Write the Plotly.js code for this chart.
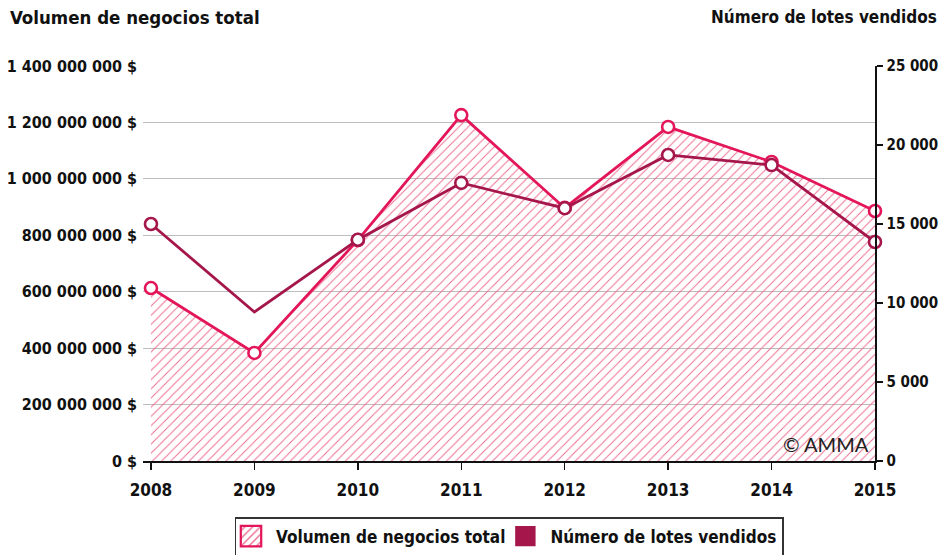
<!DOCTYPE html>
<html>
<head>
<meta charset="utf-8">
<script src="https://cdn.plot.ly/plotly-3.0.1.min.js"></script>
<style>
html,body{margin:0;padding:0;background:#fff;}
#chart{width:942px;height:555px;}
svg text{font-stretch:condensed !important;}
#chart .legendsymbols path{transform:translate(15px,0px) scale(1.7);}
</style>
</head>
<body>
<div id="chart"></div>
<script>
const years = [2008, 2009, 2010, 2011, 2012, 2013, 2014, 2015];
const volumen = [613000000, 383000000, 783000000, 1226000000, 897000000, 1184000000, 1060000000, 886000000];
const lotes = [15000, 9430, 14000, 17600, 16000, 19370, 18730, 13860];
const lotesMarkerShown = [1, 0, 1, 1, 1, 1, 1, 1];
const leftTickVals = [0, 200000000, 400000000, 600000000, 800000000, 1000000000, 1200000000, 1400000000];
const leftTickText = ['0 $', '200 000 000 $', '400 000 000 $', '600 000 000 $', '800 000 000 $', '1 000 000 000 $', '1 200 000 000 $', '1 400 000 000 $'];
const rightTickVals = [0, 5000, 10000, 15000, 20000, 25000];
const rightTickText = ['0', '5 000', '10 000', '15 000', '20 000', '25 000'];
const seriesNames = ['Volumen de negocios total', 'Número de lotes vendidos'];

const PINK = '#e3165a';
const DARK = '#a5164b';
const HATCH = '#ec6a8e';
const FONT = '"DejaVu Sans Condensed", "DejaVu Sans", sans-serif';

const traces = [
  {
    x: years, y: volumen, yaxis: 'y', type: 'scatter', mode: 'lines+markers',
    fill: 'tozeroy', fillcolor: 'rgba(0,0,0,0)',
    fillpattern: {shape: '/', fgcolor: HATCH, bgcolor: 'rgba(255,255,255,0)', size: 6.5, solidity: 0.15},
    line: {color: PINK, width: 2.8},
    marker: {symbol: 'circle', size: 12, color: '#fff', line: {color: PINK, width: 2.6}},
    cliponaxis: false, showlegend: false, hoverinfo: 'skip'
  },
  {
    x: years, y: lotes, yaxis: 'y2', type: 'scatter', mode: 'lines+markers',
    line: {color: DARK, width: 2.8},
    marker: {symbol: 'circle', size: 12, color: '#fff', opacity: lotesMarkerShown, line: {color: DARK, width: 2.6}},
    cliponaxis: false, showlegend: false, hoverinfo: 'skip'
  },
  {
    x: [null], y: [null], type: 'bar', name: seriesNames[0],
    marker: {color: '#fff', pattern: {shape: '/', fgcolor: HATCH, bgcolor: '#fff', size: 4, solidity: 0.25}, line: {color: PINK, width: 1.3}},
    showlegend: true
  },
  {
    x: [null], y: [null], type: 'bar', name: seriesNames[1],
    marker: {color: DARK, line: {color: DARK, width: 0}},
    showlegend: true
  }
];

const layout = {
  width: 942, height: 555,
  margin: {l: 143, r: 67, t: 66, b: 94, autoexpand: false},
  paper_bgcolor: '#fff', plot_bgcolor: '#fff',
  font: {family: FONT, color: '#111', size: 17},
  showlegend: true,
  legend: {
    orientation: 'h', x: 0.5, xanchor: 'center', y: -0.142, yanchor: 'top',
    bordercolor: '#333', borderwidth: 1.5, bgcolor: '#fff',
    font: {family: FONT, size: 17, color: '#111', weight: 'bold'},
    traceorder: 'normal'
  },
  xaxis: {
    range: [2007.923, 2015], tickvals: years, ticktext: years.map(String),
    showgrid: false, zeroline: false, showline: true, linecolor: '#111', linewidth: 2,
    ticks: 'outside', ticklen: 7, tickwidth: 1.5, tickcolor: '#111', ticklabelstandoff: 6,
    tickfont: {family: FONT, size: 17, color: '#111', weight: 'bold'},
    fixedrange: true
  },
  yaxis: {
    range: [0, 1400000000], tickvals: leftTickVals, ticktext: leftTickText,
    showgrid: true, gridcolor: '#bdbdbd', gridwidth: 1, zeroline: false, showline: false,
    ticks: '', ticklabelstandoff: 5,
    tickfont: {family: FONT, size: 16, color: '#111', weight: 'bold'},
    fixedrange: true
  },
  yaxis2: {
    range: [0, 25000], tickvals: rightTickVals, ticktext: rightTickText,
    overlaying: 'y', side: 'right', anchor: 'x',
    showgrid: false, zeroline: false, showline: true, linecolor: '#111', linewidth: 1.5,
    ticks: 'outside', ticklen: 6, tickwidth: 1.5, tickcolor: '#111', ticklabelstandoff: 1,
    tickfont: {family: FONT, size: 15, color: '#111', weight: 'bold'},
    fixedrange: true
  },
  annotations: [
    {text: seriesNames[0], xref: 'paper', yref: 'paper', x: -0.185, y: 1.124, xanchor: 'left', yanchor: 'middle',
     showarrow: false, font: {family: FONT, size: 18.5, color: '#111', weight: 'bold'}},
    {text: seriesNames[1], xref: 'paper', yref: 'paper', x: 1.087, y: 1.124, xanchor: 'right', yanchor: 'middle',
     showarrow: false, font: {family: FONT, size: 17, color: '#111', weight: 'bold'}},
    {text: '© AMMA', xref: 'paper', yref: 'paper', x: 0.995, y: 0.008, xanchor: 'right', yanchor: 'bottom',
     showarrow: false, font: {family: 'Lato, Roboto, sans-serif', size: 20, color: '#222'}}
  ]
};

Plotly.newPlot('chart', traces, layout, {displayModeBar: false, staticPlot: true});
</script>
</body>
</html>
